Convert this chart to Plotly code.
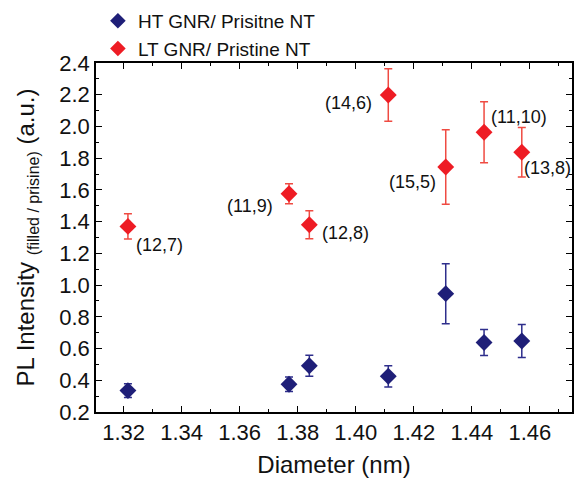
import plotly.graph_objects as go

# Data
diam = [1.3215, 1.377, 1.384, 1.4112, 1.431, 1.4442, 1.4572]
chir = ["(12,7)", "(11,9)", "(12,8)", "(14,6)", "(15,5)", "(11,10)", "(13,8)"]
ht_val = [0.335, 0.375, 0.492, 0.425, 0.946, 0.638, 0.648]
ht_err = [0.043, 0.045, 0.066, 0.067, 0.189, 0.082, 0.104]
lt_val = [1.370, 1.576, 1.380, 2.198, 1.744, 1.963, 1.837]
lt_err = [0.080, 0.063, 0.088, 0.165, 0.235, 0.192, 0.156]
x_ticks = [1.32, 1.34, 1.36, 1.38, 1.40, 1.42, 1.44, 1.46]
y_ticks = [0.2, 0.4, 0.6, 0.8, 1.0, 1.2, 1.4, 1.6, 1.8, 2.0, 2.2, 2.4]

# label placement (pixel offsets from each red point)
lab_anchor = ["left", "right", "left", "right", "right", "left", "left"]
lab_dx = [6, -14, 11, -14, -8, 5, 0]
lab_dy = [-19, -12, -8, -8, -15, 15, -16]

FONT = "Liberation Sans, Arial, sans-serif"
NAVY = "#1f1f78"
NAVY_ERR = "#2e2e8c"
RED = "#ee1c24"
RED_ERR = "#ef4b42"

fig = go.Figure()
fig.add_trace(go.Scatter(
    x=diam, y=ht_val, mode="markers", name="HT GNR/ Prisitne NT",
    marker=dict(symbol="diamond", size=13, color=NAVY, line=dict(width=0)),
    error_y=dict(type="data", array=ht_err, visible=True, color=NAVY_ERR,
                 thickness=1.5, width=4),
))
fig.add_trace(go.Scatter(
    x=diam, y=lt_val, mode="markers", name="LT GNR/ Pristine NT",
    marker=dict(symbol="diamond", size=13, color=RED, line=dict(width=0)),
    error_y=dict(type="data", array=lt_err, visible=True, color=RED_ERR,
                 thickness=1.5, width=4),
))

for xv, yv, t, a, dx, dy in zip(diam, lt_val, chir, lab_anchor, lab_dx, lab_dy):
    fig.add_annotation(x=xv, y=yv, text=t, showarrow=False, xanchor=a,
                       yanchor="middle", xshift=dx, yshift=dy,
                       font=dict(family=FONT, size=18, color="#111111"))

axis_common = dict(
    showline=True, linecolor="black", linewidth=1.5, mirror="allticks",
    ticks="inside", ticklen=6, tickwidth=1.2, tickcolor="black",
    showgrid=False, zeroline=False,
    tickfont=dict(family=FONT, size=22, color="#111111"),
)

fig.update_xaxes(
    range=[1.3105, 1.4745], tickmode="array", tickvals=x_ticks,
    ticktext=[f"{v:.2f}" for v in x_ticks],
    minor=dict(dtick=0.01, tick0=1.31, ticks="inside", ticklen=3,
               tickwidth=1.2, tickcolor="black", showgrid=False),
    title=dict(text="Diameter (nm)", font=dict(family=FONT, size=24, color="#111111"),
               standoff=12),
    **axis_common,
)
fig.update_yaxes(
    range=[0.2, 2.4], tickmode="array", tickvals=y_ticks,
    ticktext=[f"{v:.1f}" for v in y_ticks],
    minor=dict(dtick=0.1, tick0=0.2, ticks="inside", ticklen=3,
               tickwidth=1.2, tickcolor="black", showgrid=False),
    title=dict(text="PL Intensity <sub><span style='font-size:16px'>(filled / prisine)</span></sub> (a.u.)",
               font=dict(family=FONT, size=24, color="#111111"), standoff=18),
    **axis_common,
)

fig.update_layout(
    width=574, height=482,
    margin=dict(l=96, r=2, t=63, b=70, autoexpand=False),
    paper_bgcolor="white", plot_bgcolor="white",
    showlegend=True,
    legend=dict(x=0.004, y=1.175, xanchor="left", yanchor="top",
                font=dict(family=FONT, size=19, color="#111111"),
                bgcolor="rgba(0,0,0,0)", tracegroupgap=0, itemsizing="constant"),
)

fig.write_html("out.html")
